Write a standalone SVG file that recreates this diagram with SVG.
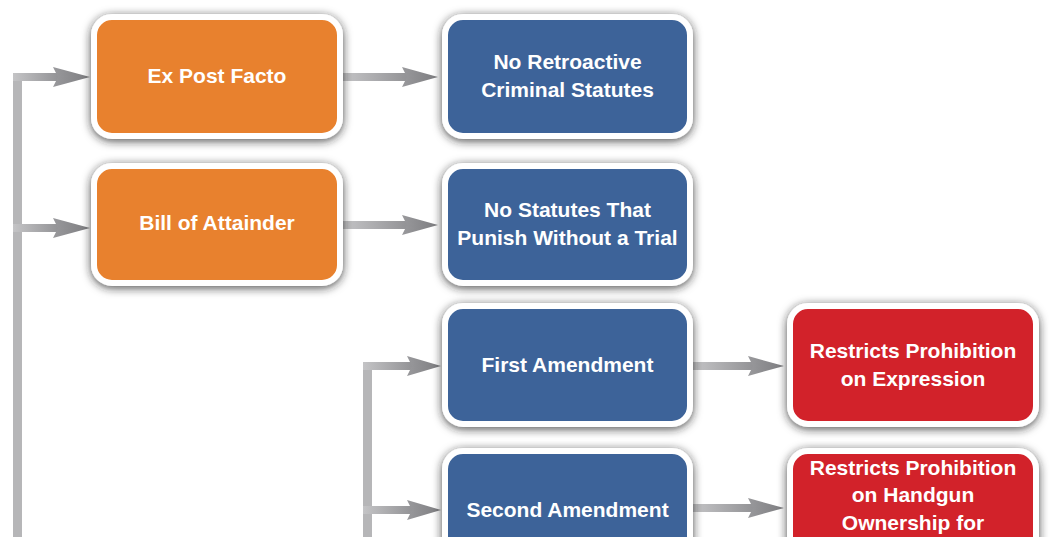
<svg xmlns="http://www.w3.org/2000/svg" width="1054" height="537" viewBox="0 0 1054 537">
  <defs>
    <filter id="sh" x="-20%" y="-30%" width="140%" height="160%">
      <feDropShadow dx="0" dy="2" stdDeviation="5" flood-color="#222222" flood-opacity="0.8"/>
    </filter>
    <linearGradient id="shaft" x1="0" y1="0" x2="1" y2="0">
      <stop offset="0" stop-color="#c4c4c6"/>
      <stop offset="1" stop-color="#939396"/>
    </linearGradient>
    <linearGradient id="head" x1="0" y1="0" x2="1" y2="0">
      <stop offset="0" stop-color="#99999c"/>
      <stop offset="1" stop-color="#7d7d80"/>
    </linearGradient>
  </defs>
  <style>
    .box { stroke: #ffffff; stroke-width: 6; filter: url(#sh); }
    .orange { fill: #e8812d; }
    .blue { fill: #3e6499; }
    .red { fill: #d2222b; }
    .t { font-family: "Liberation Sans", Arial, sans-serif; font-weight: bold; font-size: 21px; fill: #ffffff; text-anchor: middle; }
    .line { fill: #b6b6b8; }
    .shaft { fill: url(#shaft); }
    .head { fill: url(#head); }
  </style>

  <g id="connectors">
    <rect class="line" x="13" y="73" width="9" height="470"/>
    <rect class="shaft" x="13" y="73" width="45" height="8"/>
    <polygon class="head" points="53,67 90,77 53,87 58,77"/>
    <rect class="shaft" x="13" y="224" width="45" height="8"/>
    <polygon class="head" points="53,218 90,228 53,238 58,228"/>
    <rect class="shaft" x="343" y="73" width="64" height="8"/>
    <polygon class="head" points="402,67 438,77 402,87 407,77"/>
    <rect class="shaft" x="343" y="221" width="64" height="8"/>
    <polygon class="head" points="402,215 438,225 402,235 407,225"/>
    <rect class="line" x="363" y="362" width="9" height="180"/>
    <rect class="shaft" x="363" y="362" width="49" height="8"/>
    <polygon class="head" points="407,356 441,366 407,376 412,366"/>
    <rect class="shaft" x="363" y="506" width="49" height="8"/>
    <polygon class="head" points="407,500 441,510 407,520 412,510"/>
    <rect class="shaft" x="693" y="362" width="60" height="8"/>
    <polygon class="head" points="748,356 784,366 748,376 753,366"/>
    <rect class="shaft" x="693" y="504" width="60" height="8"/>
    <polygon class="head" points="748,498 784,508 748,518 753,508"/>
  </g>

  <g id="ex-post-facto">
    <rect class="box orange" x="94" y="17" width="246" height="119" rx="18"/>
    <text class="t" x="217" y="83">Ex Post Facto</text>
  </g>
  <g id="bill-of-attainder">
    <rect class="box orange" x="94" y="166" width="246" height="117" rx="18"/>
    <text class="t" x="217" y="230">Bill of Attainder</text>
  </g>
  <g id="no-retroactive">
    <rect class="box blue" x="445" y="17" width="245" height="119" rx="18"/>
    <text class="t" x="567.5" y="69">No Retroactive</text>
    <text class="t" x="567.5" y="97">Criminal Statutes</text>
  </g>
  <g id="no-statutes">
    <rect class="box blue" x="445" y="166" width="245" height="117" rx="18"/>
    <text class="t" x="567.5" y="217">No Statutes That</text>
    <text class="t" x="567.5" y="245">Punish Without a Trial</text>
  </g>
  <g id="first-amendment">
    <rect class="box blue" x="445" y="306" width="245" height="118" rx="18"/>
    <text class="t" x="567.5" y="372">First Amendment</text>
  </g>
  <g id="second-amendment">
    <rect class="box blue" x="445" y="451" width="245" height="140" rx="18"/>
    <text class="t" x="567.5" y="517">Second Amendment</text>
  </g>
  <g id="restricts-expression">
    <rect class="box red" x="790" y="306" width="246" height="118" rx="18"/>
    <text class="t" x="913" y="358">Restricts Prohibition</text>
    <text class="t" x="913" y="386">on Expression</text>
  </g>
  <g id="restricts-handgun">
    <rect class="box red" x="790" y="451" width="246" height="140" rx="18"/>
    <text class="t" x="913" y="475">Restricts Prohibition</text>
    <text class="t" x="913" y="502">on Handgun</text>
    <text class="t" x="913" y="530">Ownership for</text>
  </g>
</svg>
